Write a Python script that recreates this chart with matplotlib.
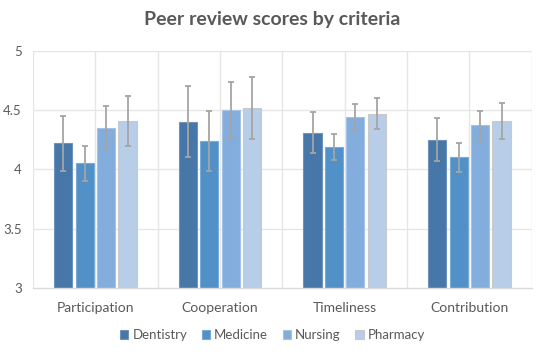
import matplotlib
matplotlib.use("Agg")
import matplotlib.pyplot as plt
import numpy as np

categories = ["Participation", "Cooperation", "Timeliness", "Contribution"]
series = ["Dentistry", "Medicine", "Nursing", "Pharmacy"]
dentistry = [4.22, 4.40, 4.31, 4.25]
medicine = [4.05, 4.24, 4.19, 4.10]
nursing = [4.35, 4.50, 4.44, 4.37]
pharmacy = [4.41, 4.52, 4.47, 4.41]
dentistry_err = [0.23, 0.30, 0.17, 0.18]
medicine_err = [0.15, 0.25, 0.11, 0.12]
nursing_err = [0.18, 0.24, 0.11, 0.12]
pharmacy_err = [0.21, 0.26, 0.13, 0.15]

values = [dentistry, medicine, nursing, pharmacy]
errors = [dentistry_err, medicine_err, nursing_err, pharmacy_err]
colors = ["#4677A8", "#5290C8", "#83ADDC", "#B7CDE8"]
edges = ["#6E94BC", "#7AAAD6", "#A5C3E6", "#C9C9C9"]

plt.rcParams['font.family'] = ['Lato', 'DejaVu Sans']
fig = plt.figure(figsize=(5.45, 3.55), dpi=100)
ax = fig.add_axes([0.0606, 0.189, 0.915, 0.668])

x = np.arange(len(categories))
pitch = 0.172
width = 0.145
for i, (vals, errs) in enumerate(zip(values, errors)):
    pos = x + (i - 1.5) * pitch
    ax.bar(pos, [v - 3 for v in vals], width, bottom=3, color=colors[i],
           edgecolor=edges[i], linewidth=0.8, label=series[i], zorder=3)
    ax.errorbar(pos, vals, yerr=errs, fmt='none', ecolor='#A5A5A5',
                elinewidth=1.3, capsize=2.5, capthick=1.3, zorder=4)

ax.set_xlim(-0.5, 3.5)
ax.set_ylim(3, 5)
ax.set_yticks([3, 3.5, 4, 4.5, 5])
ax.set_yticklabels(["3", "3.5", "4", "4.5", "5"])
ax.set_xticks(x)
ax.set_xticklabels(categories)
ax.tick_params(axis='both', length=0, colors='#595959', labelsize=10)
ax.tick_params(axis='x', pad=10)
ax.tick_params(axis='y', pad=8, labelsize=9.5)

for yv in [3.5, 4, 4.5, 5]:
    ax.axhline(yv, color='#E6E6E6', linewidth=1, zorder=1)
for xv in np.arange(-0.5, 3.51, 0.5):
    ax.axvline(xv, color='#E6E6E6', linewidth=1, zorder=1)

for s in ['top', 'right', 'left']:
    ax.spines[s].set_visible(False)
ax.spines['bottom'].set_color('#D9D9D9')
ax.spines['bottom'].set_linewidth(1)
ax.spines['bottom'].set_zorder(5)

fig.text(0.5, 0.945, "Peer review scores by criteria", ha='center', va='center',
         fontsize=14, fontweight='bold', color='#595959')

leg = fig.legend(loc='center', bbox_to_anchor=(0.5, 0.055), ncol=4, frameon=False,
                 fontsize=9.5, handlelength=0.65, handleheight=0.65, handletextpad=0.3,
                 columnspacing=1.1)
for t in leg.get_texts():
    t.set_color('#595959')

fig.savefig("out.png", dpi=100)
